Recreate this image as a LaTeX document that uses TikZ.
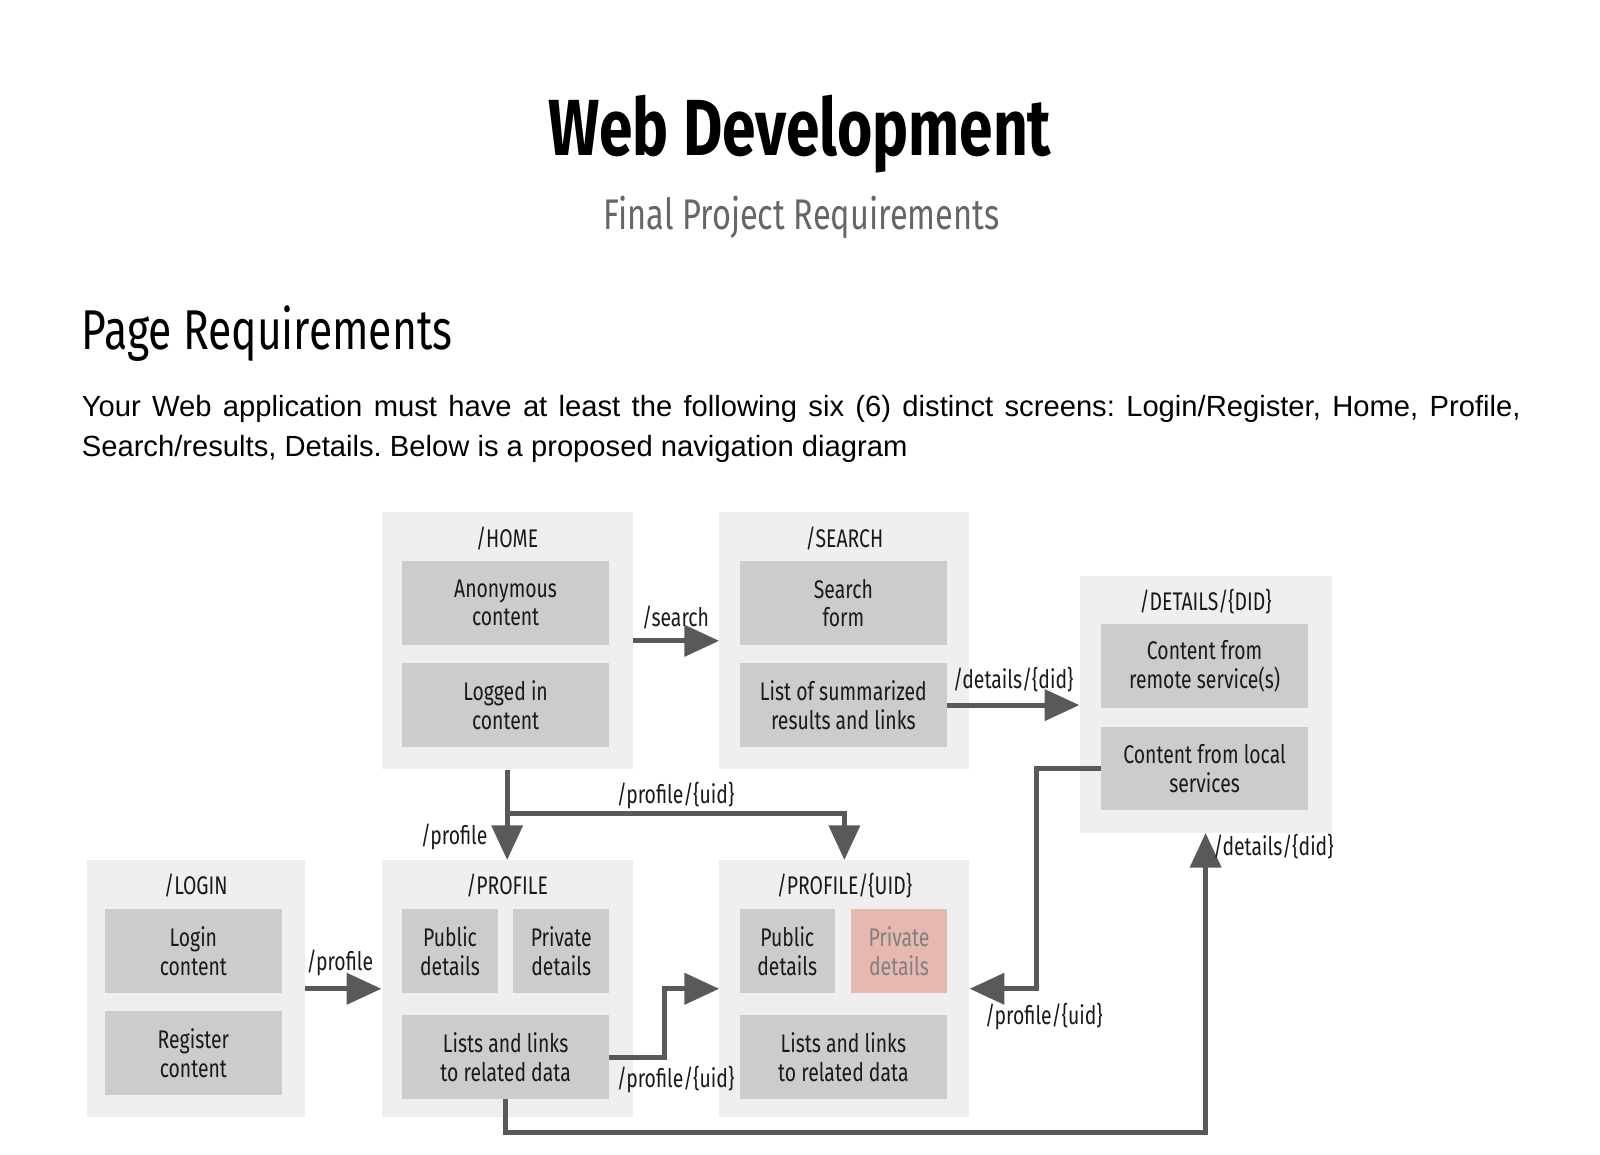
\documentclass[tikz,border=0pt]{standalone}
\usepackage{fontspec}
\setmainfont{Liberation Sans}
\newfontfamily\oswald[FakeStretch=0.76]{Fira Sans}
\usetikzlibrary{arrows.meta}

\definecolor{pagegray}{HTML}{EFEFEF}
\definecolor{partgray}{HTML}{CCCCCC}
\definecolor{partpink}{HTML}{E6B8AF}
\definecolor{linkgray}{HTML}{595959}
\definecolor{subgray}{HTML}{666666}

\begin{document}
\frenchspacing
\begin{tikzpicture}[x=1pt, y=-1pt]
        \tikzstyle{page}=[fill=pagegray, inner sep=0pt, minimum height=252pt]
        \tikzstyle{part}=[fill=partgray, inner sep=0pt, minimum height=82pt, align=center,
                font=\oswald\fontsize{25}{28}\selectfont, text=black!90]
        \tikzstyle{pagetitle}=[inner sep=0pt, font=\oswald\fontsize{25}{28}\selectfont, text=black!90]
        \tikzstyle{linklabel}=[inner sep=0pt, font=\oswald\fontsize{25}{28}\selectfont, text=black!90]
        \tikzstyle{link}=[line width=5pt, draw=linkgray, -{Triangle[length=34pt, width=30pt]}]

        \useasboundingbox (0,0) rectangle (1568,1131);

        % headings
        \node (title)[anchor=base, inner sep=0pt, font=\oswald\bfseries\fontsize{78}{80}\selectfont] at (784,152) {Web Development};
        \node (subtitle)[anchor=base, inner sep=0pt, text=subgray, font=\oswald\fontsize{42}{44}\selectfont] at (785.5,225) {Final Project Requirements};
        \node (section)[anchor=base west, inner sep=0pt, font=\oswald\fontsize{55}{58}\selectfont] at (80,343) {Page Requirements};
        \node (intro)[anchor=north west, inner sep=0pt, text width=1410pt, align=justify,
                font=\fontsize{28.6}{39}\selectfont] at (80,387)
                {Your Web application must have at least the following six (6) distinct screens: Login/Register, Home, Profile, Search/results, Details. Below is a proposed navigation diagram};

        % pages
        \node (home)[page, minimum width=246pt] at (497,628) {};
        \node (search)[page, minimum width=245pt] at (827.5,628) {};
        \node (details)[page, minimum width=247pt] at (1181.5,690) {};
        \node (login)[page, minimum width=214pt] at (192,969) {};
        \node (profile)[page, minimum width=246pt] at (497,969) {};
        \node (profileuid)[page, minimum width=245pt] at (827.5,969) {};

        \node (hometitle)[pagetitle] at (497,528) {/HOME};
        \node (searchtitle)[pagetitle] at (827.5,528) {/SEARCH};
        \node (detailstitle)[pagetitle] at (1181.5,590) {/DETAILS/\{DID\}};
        \node (logintitle)[pagetitle] at (192,868) {/LOGIN};
        \node (profiletitle)[pagetitle] at (497,868) {/PROFILE};
        \node (profileuidtitle)[pagetitle] at (827.5,868) {/PROFILE/\{UID\}};

        % parts of the pages
        \node (anon)[part, minimum width=203pt] at (495.5,591) {Anonymous\\content};
        \node (logged)[part, minimum width=203pt] at (495.5,691) {Logged in\\content};
        \node (sform)[part, minimum width=203pt] at (826.5,591) {Search\\form};
        \node (slist)[part, minimum width=203pt] at (826.5,691) {List of summarized\\results and links};
        \node (remote)[part, minimum width=203pt] at (1180.5,653) {Content from\\remote service(s)};
        \node (local)[part, minimum width=203pt] at (1180.5,753) {Content from local\\services};
        \node (logincontent)[part, minimum width=173pt] at (189.5,932) {Login\\content};
        \node (register)[part, minimum width=173pt] at (189.5,1032) {Register\\content};
        \node (ppublic)[part, minimum width=94pt] at (441,932) {Public\\details};
        \node (pprivate)[part, minimum width=94pt] at (550,932) {Private\\details};
        \node (plists)[part, minimum width=203pt] at (495.5,1036) {Lists and links\\to related data};
        \node (upublic)[part, minimum width=93pt] at (771.5,932) {Public\\details};
        \node (uprivate)[part, minimum width=94pt, fill=partpink, text=black!50] at (881,932) {Private\\details};
        \node (ulists)[part, minimum width=203pt] at (826.5,1036) {Lists and links\\to related data};

        % navigation
        \coordinate (split) at (497,797);
        \draw[link] (home) -- (search);
        \draw[link] (slist.east) -- (details.west |- slist.east);
        \draw[link] (home.south) -- (profile.north);
        \draw[link] (split) -| (profileuid.north);
        \draw[link] (login) -- (profile);
        \draw[link] (plists.east) -- ++(54,0) |- (profileuid.west);
        \draw[link] (local.west) -- ++(-63,0) |- (profileuid.east);
        \draw[link] (plists.south) -- ++(0,33) -| (details.south);

        \node (lsearch)[linklabel] at (662,605) {/search};
        \node (ldetails)[linklabel] at (993,666) {/details/\{did\}};
        \node (lprofile)[linklabel] at (445,820) {/profile};
        \node (lprofileuid)[linklabel] at (662,780) {/profile/\{uid\}};
        \node (lloginprofile)[linklabel] at (333,944) {/profile};
        \node (llistsuid)[linklabel] at (662,1058) {/profile/\{uid\}};
        \node (llocaluid)[linklabel] at (1023,996) {/profile/\{uid\}};
        \node (llistsdetails)[linklabel] at (1248,830) {/details/\{did\}};
\end{tikzpicture}
\end{document}
